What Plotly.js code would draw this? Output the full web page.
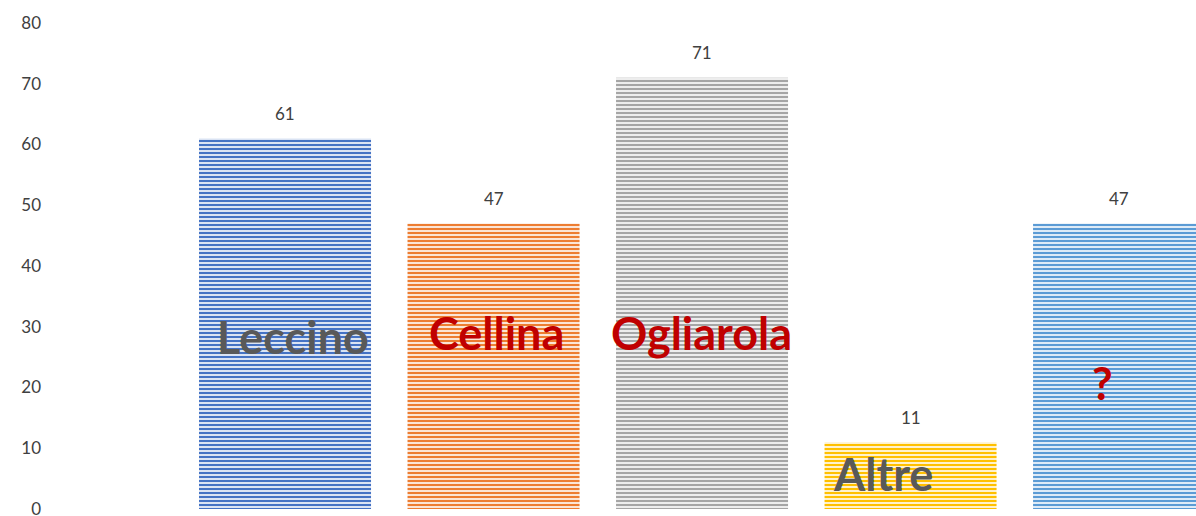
<!DOCTYPE html>
<html>
<head>
<meta charset="utf-8">
<script src="https://cdn.plot.ly/plotly-3.0.1.min.js"></script>
<style>
  html, body { margin: 0; padding: 0; background: #ffffff; }
  #chart { width: 1196px; height: 516px; }
</style>
</head>
<body>
<div id="chart"></div>
<script>
// ---- data ----
const categories = ["Leccino", "Cellina", "Ogliarola", "Altre", "?"];
const values = [61, 47, 71, 11, 47];
const barLabels = ["Leccino", "Cellina", "Ogliarola", "Altre", "?"];
const yTicks = [0, 10, 20, 30, 40, 50, 60, 70, 80];

// ---- styles ----
const stripeColors = ["#4472C4", "#ED7D31", "#A5A5A5", "#FFC000", "#5B9BD5"];
const lightColors = ["#DAE3F3", "#FBE5D6", "#EDEDED", "#FFF2CC", "#DEEBF7"];
const labelColors = ["#595959", "#C00000", "#C00000", "#595959", "#C00000"];
const labelY = [28.3, 29, 29, 5.8, 20.7];
const labelShift = [8, 3, -1, -28, -17];

const traces = categories.map((c, i) => ({
  type: "bar",
  x: [c],
  y: [values[i]],
  marker: {
    color: stripeColors[i],
    line: { width: 0 },
    pattern: {
      shape: "-",
      bgcolor: lightColors[i],
      fgcolor: stripeColors[i],
      fgopacity: 1,
      size: 4,
      solidity: 0.5,
      fillmode: "replace"
    }
  },
  hoverinfo: "skip"
}));

const annotations = [];
categories.forEach((c, i) => {
  annotations.push({
    x: c, y: values[i], xref: "x", yref: "y",
    text: String(values[i]), showarrow: false,
    yshift: 25, font: { family: "Lato, sans-serif", size: 17, color: "#404040" }
  });
  annotations.push({
    x: c, y: labelY[i], xref: "x", yref: "y",
    text: "<b>" + barLabels[i] + "</b>", showarrow: false,
    xshift: labelShift[i],
    font: { family: "Lato, sans-serif", size: 45, color: labelColors[i] }
  });
});

const layout = {
  width: 1196, height: 516,
  margin: { l: 42, r: 0, t: 23, b: 0, pad: 0 },
  paper_bgcolor: "#ffffff", plot_bgcolor: "#ffffff",
  barmode: "overlay",
  bargap: 0.175,
  showlegend: false,
  xaxis: {
    type: "category",
    categoryarray: categories,
    categoryorder: "array",
    range: [-1.1655, 4.369],
    showticklabels: false, showgrid: false, zeroline: false, showline: false, ticks: ""
  },
  yaxis: {
    range: [-1.152, 80],
    tickvals: yTicks,
    ticktext: yTicks.map(String),
    ticklabeloverflow: "allow",
    showgrid: false, zeroline: false, showline: false, ticks: "",
    tickfont: { family: "Lato, sans-serif", size: 17, color: "#404040" }
  },
  annotations: annotations
};

Plotly.newPlot("chart", traces, layout, { displayModeBar: false, staticPlot: true });
</script>
</body>
</html>
